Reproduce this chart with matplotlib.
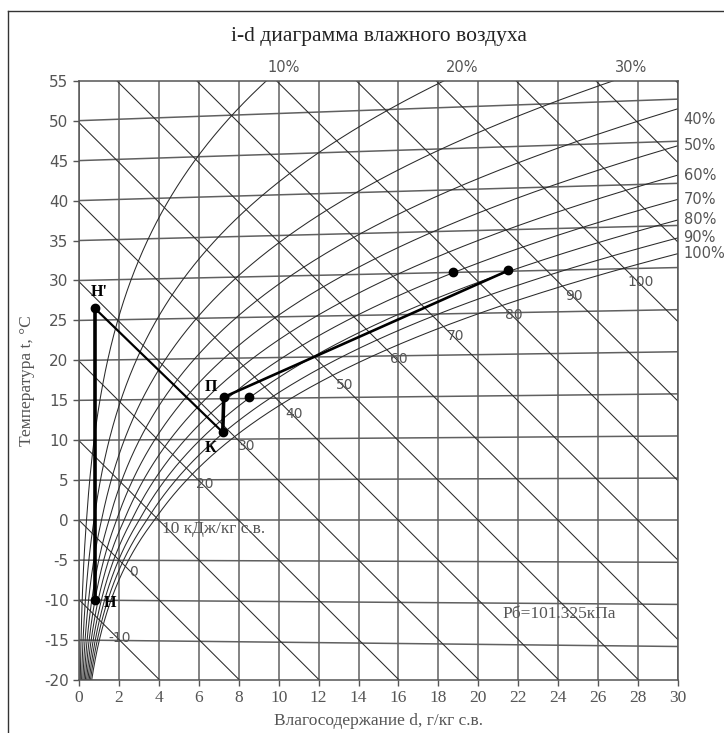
import numpy as np
import matplotlib.pyplot as plt
from matplotlib.lines import Line2D

plt.rcParams['axes.unicode_minus'] = False

# --- данные диаграммы ---
P_BAR = 101.325  # кПа
rh_levels = [0.1, 0.2, 0.3, 0.4, 0.5, 0.6, 0.7, 0.8, 0.9, 1.0]
rh_labels = ['10%', '20%', '30%', '40%', '50%', '60%', '70%', '80%', '90%', '100%']
top_labeled = ['10%', '20%', '30%']
enthalpy_levels = [-10, 0, 10, 20, 30, 40, 50, 60, 70, 80, 90, 100, 110, 120, 130]
enthalpy_labeled = [-10, 0, 10, 20, 30, 40, 50, 60, 70, 80, 90, 100]
isotherm_levels = [-20, -15, -10, -5, 0, 5, 10, 15, 20, 25, 30, 35, 40, 45, 50]
x_ticks = [0, 2, 4, 6, 8, 10, 12, 14, 16, 18, 20, 22, 24, 26, 28, 30]
y_ticks = [-20, -15, -10, -5, 0, 5, 10, 15, 20, 25, 30, 35, 40, 45, 50, 55]

# процесс: Н -> Н' -> К -> П -> конец
path_names = ['Н', "Н'", 'К', 'П', '']
path_d = [0.8, 0.8, 7.2, 7.25, 21.5]
path_t = [-10.0, 26.5, 11.0, 15.4, 31.25]
extra_d = [8.5, 18.75]
extra_t = [15.4, 31.0]

GRAY = '#555555'
SERIF = 'Liberation Serif'
SANS = 'DejaVu Sans'


def p_sat(t):
    t = np.asarray(t, float)
    return np.where(t >= 0, 0.61078 * np.exp(17.27 * t / (t + 237.3)),
                    0.61115 * np.exp(22.452 * t / (272.55 + t)))


def d_of(t, phi):
    pw = phi * p_sat(t)
    return 622.0 * pw / (P_BAR - pw)


def y_of(t, d):
    # косоугольная i-d сетка: изотерма t=0 горизонтальна
    return t + 0.001805 * t * d / 1.005


def y_enth(i, d):
    return (i - 2.501 * d) / 1.005


fig = plt.figure(figsize=(7.24, 7.33), dpi=100)
ax = fig.add_axes([79 / 724, 1 - 680 / 733, 599 / 724, 599.3 / 733])
ax.set_xlim(0, 30)
ax.set_ylim(-20, 55)

# рамка вокруг рисунка (видны только левая и верхняя стороны)
fig.add_artist(Line2D([8 / 724, 8 / 724], [0, 1 - 11 / 733], transform=fig.transFigure, color='#333333', lw=1))
fig.add_artist(Line2D([8 / 724, 1], [1 - 11 / 733, 1 - 11 / 733], transform=fig.transFigure, color='#333333', lw=1))

# вертикальная сетка по d
for x in x_ticks:
    ax.axvline(x, color='#606060', lw=1.1, zorder=1)

dd = np.linspace(0, 30, 200)
# изотермы
for t in isotherm_levels:
    ax.plot(dd, y_of(t, dd), color='#606060', lw=1.1, zorder=1)

# линии постоянной энтальпии
for i in enthalpy_levels:
    ax.plot(dd, y_enth(i, dd), color='#2a2a2a', lw=0.75, zorder=2)

# линии относительной влажности
tt = np.linspace(-25, 62, 3000)
right_nudge = {'40%': -1.3}
for phi, lab in zip(rh_levels, rh_labels):
    d = d_of(tt, phi)
    y = y_of(tt, d)
    ax.plot(d, y, color='#2a2a2a', lw=0.75, zorder=2)
    if lab in top_labeled:
        d_top = np.interp(55, y, d)
        ax.annotate(lab, (d_top, 55), xytext=(1, 4), textcoords='offset points',
                    ha='left', va='bottom', fontsize=10.5, family=SANS, color=GRAY,
                    annotation_clip=False)
    else:
        t_end = np.interp(30, d, tt)
        ax.annotate(lab, (30, y_of(t_end, 30) + right_nudge.get(lab, 0)), xytext=(4, 0),
                    textcoords='offset points', ha='left', va='center', fontsize=10.5,
                    family=SANS, color=GRAY, annotation_clip=False)

# подписи энтальпии у линии насыщения
d100 = d_of(tt, 1.0)
i_sat = 1.005 * tt + d100 * (2.501 + 0.001805 * tt)
for i in enthalpy_labeled:
    t_c = np.interp(i, i_sat, tt)
    d_c = np.interp(t_c, tt, d100)
    if i == 10:
        d_l = d_c + 0.3
        ax.text(d_l, y_enth(i, d_l) - 0.7, '10 кДж/кг с.в.', ha='left', va='center',
                fontsize=12.5, family=SERIF, color=GRAY, zorder=3)
    else:
        s = str(i)
        d_m = d_c + 0.2 + 0.2 * len(s)
        ax.text(d_m, y_enth(i, d_m) + 0.3, s, ha='center', va='center',
                fontsize=10, family=SANS, color=GRAY, zorder=3)

# процесс обработки воздуха
seg_lw = [2.6, 1.6, 2.6, 1.9]
for k in range(len(path_d) - 1):
    ax.plot(path_d[k:k + 2], path_t[k:k + 2], color='black', lw=seg_lw[k],
            solid_capstyle='round', zorder=4)
ax.plot(path_d, path_t, 'o', color='black', ms=6, zorder=5)
ax.plot(extra_d, extra_t, 'o', color='black', ms=6, zorder=5)

name_offsets = {'Н': (11, -2), "Н'": (3, 11.5), 'К': (-8.5, -11), 'П': (-9, 7)}
for n, x, y in zip(path_names, path_d, path_t):
    if n:
        ax.annotate(n, (x, y), xytext=name_offsets[n], textcoords='offset points',
                    ha='center', va='center', fontsize=11.5, family=SERIF,
                    fontweight='bold', color='black', zorder=6)

ax.text(21.2, -11.8, 'Рб=101.325кПа', ha='left', va='center', fontsize=12.5,
        family=SERIF, color=GRAY, zorder=3)

# оси
ax.set_xticks(x_ticks)
ax.set_yticks(y_ticks)
ax.tick_params(direction='out', length=4, color=GRAY, width=1)
for lab in ax.get_xticklabels():
    lab.set_fontfamily(SERIF)
    lab.set_fontsize(12.5)
    lab.set_color(GRAY)
for lab in ax.get_yticklabels():
    lab.set_fontfamily(SANS)
    lab.set_fontsize(11)
    lab.set_color(GRAY)
for s in ax.spines.values():
    s.set_color(GRAY)
    s.set_linewidth(1.1)

ax.set_xlabel('Влагосодержание d, г/кг с.в.', family=SERIF, fontsize=12.5, color=GRAY, labelpad=5)
ax.set_ylabel('Температура t, °C', family=SERIF, fontsize=12.5, color=GRAY, labelpad=6)
fig.text((79 + 678) / 2 / 724, 1 - 36 / 733, 'i-d диаграмма влажного воздуха',
         ha='center', va='center', family=SERIF, fontsize=15.5, color='#222222')

fig.savefig('out.png', dpi=100)
